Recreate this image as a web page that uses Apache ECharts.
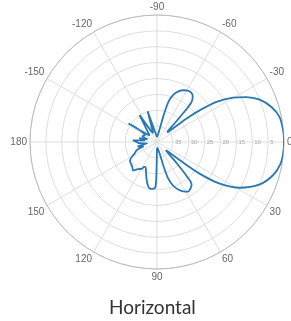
<!DOCTYPE html>
<html>
<head>
<meta charset="utf-8">
<script src="https://cdn.jsdelivr.net/npm/echarts@6/dist/echarts.min.js"></script>
<style>
  html, body { margin: 0; padding: 0; background: #fff; }
  #chart { width: 291px; height: 321px; }
</style>
</head>
<body>
<div id="chart"></div>
<script>
// angle in degrees (0 = right, clockwise positive), attenuation in dB (0 = outer ring)
var angles = [
  -180, -176, -172, -168, -164, -158, -152, -147, -143, -138, -130, -123, -118, -113,
  -107, -102, -95, -88, -82, -78, -76, -74, -71, -67, -63, -59, -55, -52, -49, -47.5,
  -46, -44, -42, -40.5, -38.5, -36.6, -34, -30.3, -26.7, -22.4, -17, -11.5, -5, 0,
  5, 10, 16, 22.4, 28.9, 33.6, 36.6, 38.5, 41, 43, 45, 47, 49, 51, 54, 58, 62, 66,
  70, 73, 75, 77, 81, 86, 90, 91, 92, 95, 99, 102, 106, 110, 114, 117, 120, 125,
  130, 135, 140, 145, 149, 153, 158, 163, 167, 172, 176, 180
];
var attenuation = [
  33.7, 32.4, 36.2, 34.3, 36.9, 35, 35.6, 29.3, 35.6, 36.9, 35, 29.9, 36.2, 36.9,
  29.9, 36.2, 38.1, 38.4, 37.5, 35.6, 31.2, 26.8, 24.3, 22.7, 21.7, 21.1, 21.1, 21.7, 23.6, 29,
  33.7, 35.6, 35, 33.7, 28.2, 23.3, 17.4, 12.3, 8.5, 5, 2.3, 0.6, 0.1, 0,
  0.1, 0.5, 2, 5, 10.2, 16.3, 23.3, 30.6, 35.6, 36.2, 35, 31.2, 25.8, 22.7, 22, 21.6, 22.4, 23.6,
  25.5, 28, 32.4, 36.2, 37.5, 38.1, 37.8, 30.6, 25.8, 25.2, 25.2, 26.1, 28, 29.9, 31.2, 31.2, 30.2, 29.6,
  28.3, 29, 29.3, 29.6, 30.6, 32.1, 33.1, 35.6, 33.7, 36.9, 34.3, 33.7
];
var ringValues = [0, 5, 10, 15, 20, 25, 30, 35, 40];

var chart = echarts.init(document.getElementById('chart'));

var pts = [];
for (var i = 0; i < angles.length; i++) {
  var a = angles[i] < 0 ? angles[i] + 360 : angles[i];
  pts.push([attenuation[i], a]);
}

var option = {
  animation: false,
  title: {
    text: 'Horizontal',
    left: 104,
    top: 293,
    textStyle: { fontFamily: 'Lato', fontSize: 19, fontWeight: 'normal', color: '#333' }
  },
  polar: { center: [157, 142], radius: 127 },
  angleAxis: {
    type: 'value',
    min: 0,
    max: 360,
    interval: 30,
    startAngle: 0,
    clockwise: true,
    axisLine: { lineStyle: { color: '#bbb', width: 1 } },
    axisTick: { show: false },
    axisLabel: {
      margin: 3,
      fontSize: 10,
      color: '#666',
      fontFamily: 'Liberation Sans',
      formatter: function (v) { return v > 180 ? String(v - 360) : String(v); }
    },
    splitLine: { lineStyle: { color: '#ddd', width: 1 } }
  },
  radiusAxis: {
    type: 'value',
    min: ringValues[0],
    max: ringValues[ringValues.length - 1],
    interval: 5,
    inverse: true,
    axisLine: { show: false },
    axisTick: { show: false },
    axisLabel: {
      margin: 0,
      fontSize: 6,
      color: '#aaa',
      verticalAlign: 'middle',
      align: 'left',
      padding: [0, 0, 0, 2],
      formatter: function (v) { return (v === 0 || v === 40) ? '' : String(v); }
    },
    splitLine: { lineStyle: { color: '#ddd', width: 1 } }
  },
  series: [{
    type: 'line',
    coordinateSystem: 'polar',
    data: pts,
    showSymbol: false,
    smooth: 0.3,
    lineStyle: { color: '#2a78b3', width: 1.8 }
  }]
};
chart.setOption(option);
</script>
</body>
</html>
